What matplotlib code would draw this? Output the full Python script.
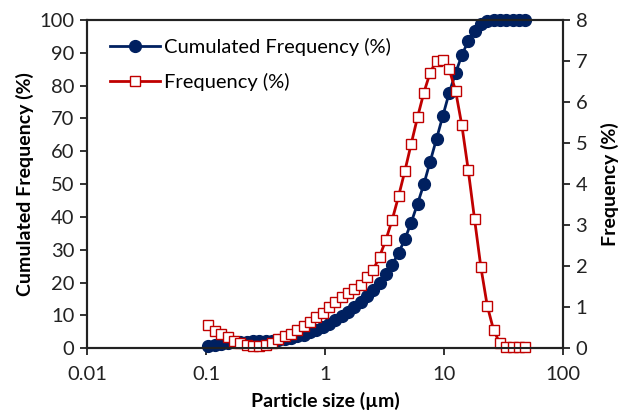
import matplotlib
matplotlib.use("Agg")
import matplotlib.pyplot as plt
from matplotlib.ticker import FixedLocator, FixedFormatter

# particle size classes (um)
size_um = [0.105, 0.1187, 0.1342, 0.1517, 0.1714, 0.1938, 0.2191, 0.2476, 0.2799, 0.3164,
           0.3576, 0.4043, 0.457, 0.5165, 0.5839, 0.66, 0.7461, 0.8434, 0.9532, 1.0775,
           1.218, 1.377, 1.556, 1.759, 1.988, 2.247, 2.54, 2.871, 3.246, 3.669,
           4.147, 4.688, 5.299, 5.991, 6.771, 7.654, 8.652, 9.779, 11.05, 12.5,
           14.13, 15.97, 18.05, 20.4, 23.07, 26.07, 29.47, 33.31, 37.65, 42.56, 48.11]

cumulated = [0.7, 1.1, 1.4, 1.6, 1.8, 1.9, 2.0, 2.1, 2.1, 2.2,
             2.3, 2.6, 2.9, 3.2, 3.7, 4.2, 4.9, 5.6, 6.5, 7.5,
             8.6, 9.9, 11.2, 12.6, 14.2, 15.9, 17.8, 20.0, 22.5, 25.5,
             29.0, 33.2, 38.3, 44.0, 50.0, 56.9, 63.8, 70.8, 77.8, 83.8,
             89.3, 93.6, 96.6, 98.8, 99.6, 99.9, 100, 100, 100, 100, 100]

frequency = [0.58, 0.43, 0.35, 0.27, 0.19, 0.12, 0.08, 0.05, 0.05, 0.08,
             0.14, 0.22, 0.30, 0.36, 0.45, 0.54, 0.64, 0.76, 0.86, 1.01,
             1.14, 1.24, 1.34, 1.44, 1.54, 1.73, 1.91, 2.23, 2.64, 3.13,
             3.70, 4.32, 4.98, 5.63, 6.23, 6.72, 7.01, 7.03, 6.80, 6.28,
             5.43, 4.35, 3.15, 1.98, 1.04, 0.45, 0.12, 0.04, 0.03, 0.02, 0.02]

x_ticks = [0.01, 0.1, 1, 10, 100]
x_tick_labels = ["0.01", "0.1", "1", "10", "100"]

plt.rcParams['font.family'] = ['Lato', 'DejaVu Sans']

blue = "#002060"
red = "#C00000"
fs = 14.5

fig = plt.figure(figsize=(6.3, 4.15), dpi=100)
ax = fig.add_axes([0.138, 0.1607, 0.7557, 0.7911])
ax2 = ax.twinx()

l1, = ax.plot(size_um, cumulated, color=blue, lw=2, marker='o', ms=8.5,
              mfc=blue, mec=blue, clip_on=False, label="Cumulated Frequency (%)")
l2, = ax2.plot(size_um, frequency, color=red, lw=2, marker='s', ms=7,
               mfc='white', mec=red, mew=1.0, clip_on=False, label="Frequency (%)")

ax.set_xscale('log')
ax.set_xlim(0.01, 100)
ax.xaxis.set_major_locator(FixedLocator(x_ticks))
ax.xaxis.set_major_formatter(FixedFormatter(x_tick_labels))
ax.xaxis.set_minor_locator(FixedLocator([]))
ax.set_ylim(0, 100)
ax.set_yticks(range(0, 101, 10))
ax2.set_ylim(0, 8)
ax2.set_yticks(range(0, 9))

for a in (ax, ax2):
    for s in a.spines.values():
        s.set_linewidth(1.5)
        s.set_color('#222222')
    a.tick_params(direction='out', length=5, width=1.3, labelsize=fs, colors='#222222')
ax.tick_params(axis='x', pad=8)
ax.tick_params(axis='y', pad=4)
ax2.tick_params(axis='y', pad=4)

ax.set_xlabel("Particle size (µm)", fontsize=fs - 0.5, fontweight='bold', labelpad=6)
ax.set_ylabel("Cumulated Frequency (%)", fontsize=fs - 0.5, fontweight='bold', labelpad=4)
ax2.set_ylabel("Frequency (%)", fontsize=fs - 0.5, fontweight='bold', labelpad=10)

ax2.legend(handles=[l1, l2], loc='upper left', bbox_to_anchor=(0.01, 1.0), frameon=False,
           fontsize=fs, handlelength=2.5, handletextpad=0.2, labelspacing=0.85)

fig.savefig("out.png", dpi=100)
